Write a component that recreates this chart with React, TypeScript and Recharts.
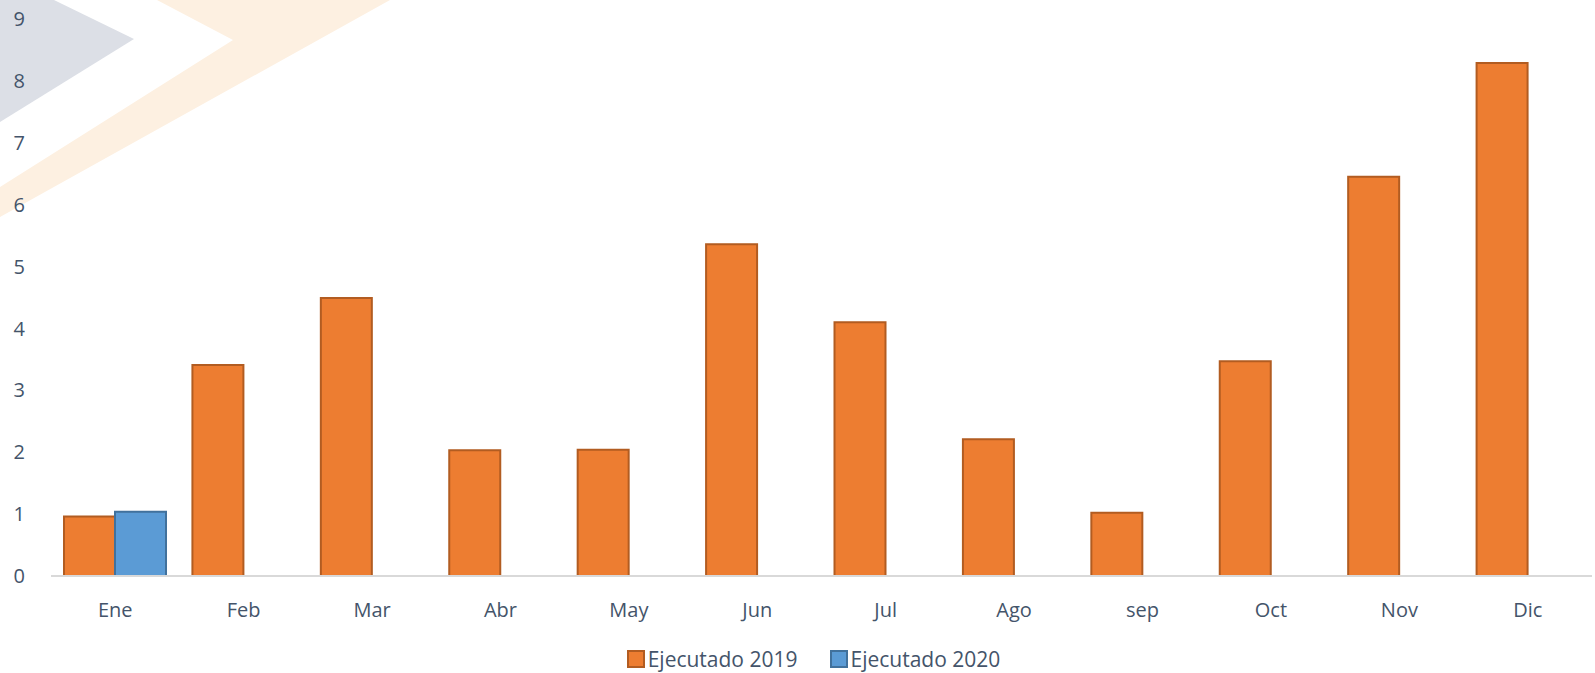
import { BarChart, Bar, XAxis, YAxis, Legend } from "recharts";

const months = ["Ene", "Feb", "Mar", "Abr", "May", "Jun", "Jul", "Ago", "sep", "Oct", "Nov", "Dic"];
const ejecutado2019 = [0.96, 3.41, 4.49, 2.03, 2.04, 5.36, 4.1, 2.21, 1.02, 3.47, 6.45, 8.29];
const ejecutado2020: Array<number | null> = [1.04, null, null, null, null, null, null, null, null, null, null, null];
const yTicks = [0, 1, 2, 3, 4, 5, 6, 7, 8, 9];

const series = [
  { key: "e2019", name: "Ejecutado 2019", fill: "#ED7D31", stroke: "#B25C21" },
  { key: "e2020", name: "Ejecutado 2020", fill: "#5B9BD5", stroke: "#41719C" },
];

const data = months.map((m, i) => ({
  month: m,
  e2019: ejecutado2019[i],
  e2020: ejecutado2020[i],
}));

const textColor = "#44546A";
const font = "'Open Sans', sans-serif";

function LegendBox() {
  return (
    <div
      style={{
        display: "flex",
        justifyContent: "center",
        alignItems: "center",
        height: 28,
        paddingLeft: 32,
        fontFamily: font,
        fontSize: 21,
        color: textColor,
      }}
    >
      {series.map((s, i) => (
        <div key={s.key} style={{ display: "flex", alignItems: "center", marginLeft: i ? 32 : 0 }}>
          <svg width={18} height={18} style={{ marginRight: 3 }}>
            <rect x={1} y={1} width={16} height={16} fill={s.fill} stroke={s.stroke} strokeWidth={2} />
          </svg>
          <span>{s.name}</span>
        </div>
      ))}
    </div>
  );
}

export default function App() {
  return (
    <div
      style={{
        position: "absolute",
        left: 0,
        top: 0,
        width: 1595,
        height: 673,
        overflow: "hidden",
        background: "#fff",
      }}
    >
      {/* faint logo watermark */}
      <svg width={1595} height={673} style={{ position: "absolute", left: 0, top: 0 }}>
        <polygon points="0,0 54,0 134,39 0,122" fill="#DCDFE6" />
        <polygon points="157,0 390,0 0,217 0,187 233,40" fill="#FDF0E1" />
      </svg>
      <div style={{ position: "absolute", left: 0, top: 0 }}>
        <BarChart
          width={1595}
          height={673}
          data={data}
          margin={{ top: 19, right: 3, left: 0, bottom: 29 }}
          barGap={0}
          barSize={51}
        >
          <XAxis
            dataKey="month"
            height={40}
            tickLine={false}
            tickMargin={21}
            axisLine={{ stroke: "#D9D9D9", strokeWidth: 2 }}
            tick={{ fontSize: 20, fill: textColor, fontFamily: font }}
            interval={0}
          />
          <YAxis
            width={51}
            domain={[0, 9]}
            ticks={yTicks}
            axisLine={false}
            tickLine={false}
            tickSize={0}
            tickMargin={26}
            tick={{ fontSize: 20, fill: textColor, fontFamily: font }}
          />
          <Legend
            verticalAlign="bottom"
            content={() => <LegendBox />}
            wrapperStyle={{ left: 0, width: 1595, bottom: 0 }}
          />
          {series.map((s) => (
            <Bar
              key={s.key}
              dataKey={s.key}
              name={s.name}
              fill={s.fill}
              stroke={s.stroke}
              strokeWidth={2}
              isAnimationActive={false}
            />
          ))}
        </BarChart>
      </div>
    </div>
  );
}
